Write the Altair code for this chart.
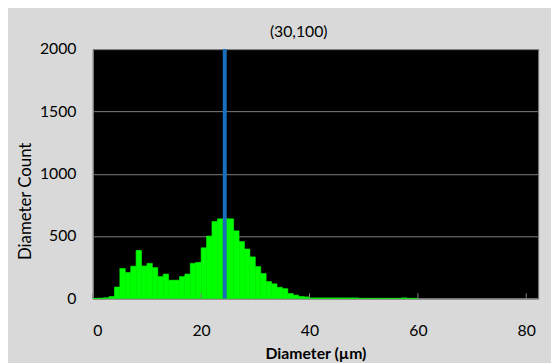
import altair as alt
import pandas as pd

# histogram bins (1 µm wide) and counts
bin_start = list(range(0, 60))
counts = [0, 2, 5, 15, 91, 240, 208, 258, 385, 260,
          281, 247, 175, 195, 146, 146, 175, 195, 281, 289,
          406, 500, 617, 638, 640, 638, 542, 456, 396, 333,
          255, 200, 135, 117, 89, 78, 39, 26, 15, 12,
          4, 4, 4, 4, 4, 4, 4, 4, 4, 0,
          0, 0, 0, 0, 0, 0, 0, 4, 0, 0]
marker_x = [24.36]
x_ticks = [0, 20, 40, 60, 80]
y_ticks = [0, 500, 1000, 1500, 2000]
tick_len = 42

bars_df = pd.DataFrame({"start": bin_start,
                        "end": [b + 1 for b in bin_start],
                        "count": counts,
                        "zero": [0] * len(bin_start)})
marker_df = pd.DataFrame({"x": marker_x, "y0": [0], "y1": [2000]})
ticks_df = pd.DataFrame({"x": x_ticks, "y0": [0] * len(x_ticks), "y1": [tick_len] * len(x_ticks)})

FONT = "Lato"
xscale = alt.Scale(domain=[0, 82.2], nice=False, zero=False)
yscale = alt.Scale(domain=[0, 2000], nice=False)

bars = alt.Chart(bars_df).mark_rect(color="#00ff00", stroke="#00ff00", strokeWidth=0.6).encode(
    x=alt.X("start:Q", scale=xscale,
            axis=alt.Axis(values=x_ticks, title="Diameter (µm)", grid=False, ticks=False,
                          format="d", labelFontSize=16, labelPadding=25, labelColor="#000000",
                          titleFontSize=16, titleFontWeight="bold", titlePadding=7,
                          titleColor="#000000", domainColor="#808080", labelFont=FONT,
                          titleFont=FONT)),
    x2="end:Q",
    y=alt.Y("count:Q", scale=yscale,
            axis=alt.Axis(values=y_ticks, title="Diameter Count", grid=True, gridColor="#808080",
                          format="d", ticks=False, labelFontSize=16, labelPadding=17,
                          labelColor="#000000",
                          titleFontSize=17, titleFontWeight="normal", titlePadding=5,
                          titleY=154,
                          titleColor="#000000", domainColor="#808080", labelFont=FONT,
                          titleFont=FONT)),
    y2="zero:Q",
)

ticks = alt.Chart(ticks_df).mark_rule(color="#808080", strokeWidth=1).encode(
    x=alt.X("x:Q", scale=xscale), y=alt.Y("y0:Q", scale=yscale), y2="y1:Q")

marker = alt.Chart(marker_df).mark_rule(color="#1a6fba", strokeWidth=4).encode(
    x=alt.X("x:Q", scale=xscale), y=alt.Y("y0:Q", scale=yscale), y2="y1:Q")

chart = alt.layer(bars, ticks, marker).properties(
    width=452, height=253,
    title=alt.TitleParams("(30,100)", fontSize=16, font=FONT, fontWeight="normal",
                          color="#000000", dx=-17, offset=1),
    autosize=alt.AutoSizeParams(type="none"),
    padding={"left": 86, "top": 39, "right": 13, "bottom": 72},
    background="#d9d9d9",
).configure_view(fill="#000000", stroke="#808080")

chart.save("out.html", embed_options={"renderer": "svg", "actions": False})
